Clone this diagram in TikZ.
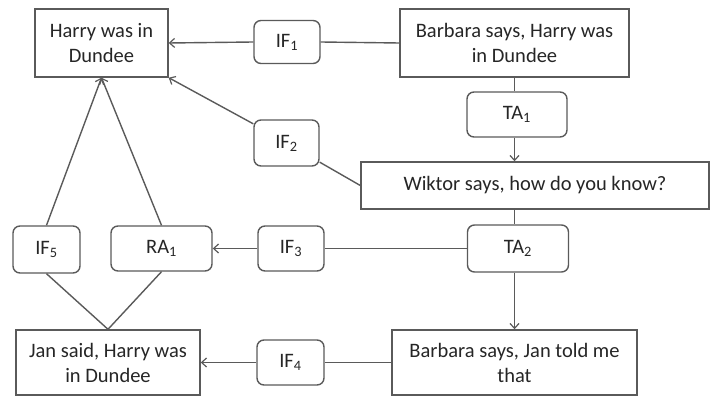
\documentclass[tikz,border=0pt]{standalone}
\usepackage{fontspec}
\setmainfont{Carlito}
\usetikzlibrary{arrows.meta}
\definecolor{txt}{HTML}{262626}
\definecolor{ln}{HTML}{5A5A5A}
\tikzset{
  box/.style={draw=ln, line width=1.4pt, fill=white, align=center, text=txt,
    font=\fontsize{20.5}{25}\selectfont, inner sep=0pt},
  rbox/.style={box, rounded corners=7pt},
  con/.style={draw=ln, line width=1.4pt},
  arr/.style={con, -{Straight Barb[length=5pt,width=9pt,line width=1.2pt]}},
}
\begin{document}
\begin{tikzpicture}[x=1pt,y=-1pt]
\useasboundingbox (0,0) rectangle (712,398);
\node[box, minimum width=133, minimum height=68] (h) at (101.5,43) {Harry was in\\Dundee};
\node[rbox, minimum width=66, minimum height=43] (if1) at (287,42) {IF\textsubscript{1}};
\node[box, minimum width=229, minimum height=68] (b1) at (514.5,43) {Barbara says, Harry was\\in Dundee};
\node[rbox, minimum width=100, minimum height=45] (ta1) at (517,114.5) {TA\textsubscript{1}};
\node[rbox, minimum width=65, minimum height=46] (if2) at (286.5,143) {IF\textsubscript{2}};
\node[box, minimum width=348, minimum height=47] (w) at (535,185.5) {Wiktor says, how do you know?};
\node[rbox, minimum width=67, minimum height=47] (if5) at (46.5,249.5) {IF\textsubscript{5}};
\node[rbox, minimum width=101, minimum height=45] (ra1) at (161.5,248.5) {RA\textsubscript{1}};
\node[rbox, minimum width=66, minimum height=45] (if3) at (291,248.5) {IF\textsubscript{3}};
\node[rbox, minimum width=101, minimum height=47] (ta2) at (518,248.5) {TA\textsubscript{2}};
\node[box, minimum width=184, minimum height=65] (j) at (108,362.5) {Jan said, Harry was\\in Dundee};
\node[rbox, minimum width=67, minimum height=45] (if4) at (290.5,362.5) {IF\textsubscript{4}};
\node[box, minimum width=245, minimum height=65] (b2) at (514.5,362.5) {Barbara says, Jan told me\\that};
% connectors
\draw[con] (b1.west) -- (if1.east);
\draw[arr] (if1.west) -- (h.east);
\draw[con] (b1.south) -- (b1.south |- ta1.north);
\draw[arr] (b1.south |- ta1.south) -- (b1.south |- w.north);
\draw[con] (w.west) -- (if2.-30);
\draw[arr] (if2.150) -- (h.south east);
\draw[con] (b1.south |- w.south) -- (b1.south |- ta2.north);
\draw[con] (ta2.west) -- (if3.east);
\draw[arr] (if3.west) -- (ra1.east);
\draw[arr] (b1.south |- ta2.south) -- (b1.south |- b2.north);
\draw[con] (b2.west) -- (if4.east);
\draw[arr] (if4.west) -- (j.east);
\draw[arr] (if5.north) -- (h.south);
\draw[arr] (ra1.north) -- (h.south);
\draw[con] (if5.south) -- (j.north);
\draw[con] (ra1.south) -- (j.north);
\end{tikzpicture}
\end{document}
